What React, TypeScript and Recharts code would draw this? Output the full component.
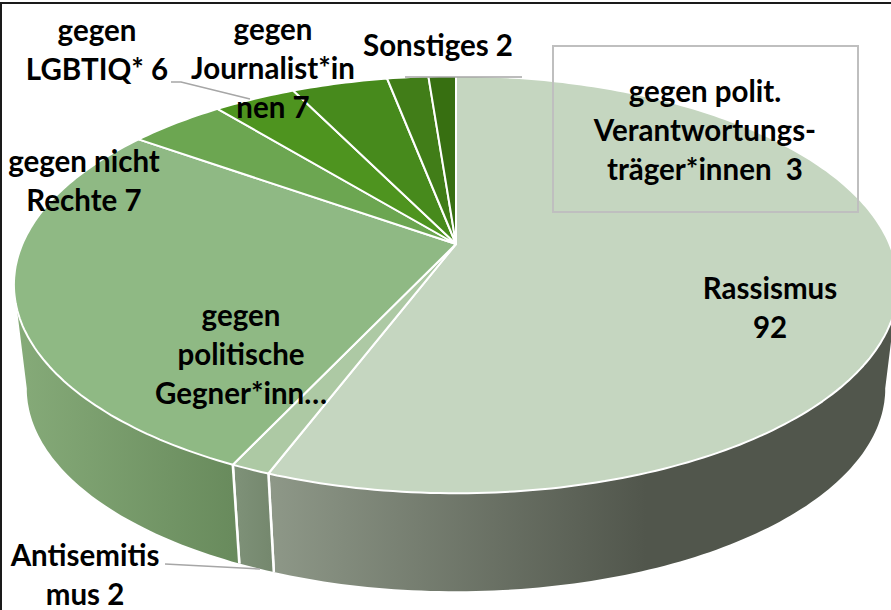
import { PieChart, Pie } from "recharts";

const categories = [
  "Rassismus",
  "Antisemitismus",
  "gegen politische Gegner*innen",
  "gegen nicht Rechte",
  "gegen LGBTIQ*",
  "gegen Journalist*innen",
  "gegen polit. Verantwortungsträger*innen",
  "Sonstiges",
];
const values = [92, 2, 46, 7, 6, 7, 3, 2];
const faceColors = ["#c5d6c0", "#adc9a4", "#8fb984", "#6ca651", "#4e941f", "#478a1c", "#417d18", "#376f11"];
const wallFrom = ["#8e9888", "#7f9279", "#86ab79", "#5f8f46", "#44801b", "#3e7818", "#386c14", "#30600f"];
const wallTo = ["#51564c", "#74876d", "#688a5c", "#4e7a3a", "#3a6e17", "#356714", "#305d11", "#29530d"];
const labelLines = [
  ["Rassismus", "92"],
  ["Antisemitis", "mus 2"],
  ["gegen", "politische", "Gegner*inn…"],
  ["gegen nicht", "Rechte 7"],
  ["gegen", "LGBTIQ* 6"],
  ["gegen", "Journalist*in", "nen 7"],
  ["gegen polit.", "Verantwortungs-", "träger*innen  3"],
  ["Sonstiges 2"],
];

const data = categories.map((name, i) => ({ name, value: values[i] }));

// where each label sits: centre x, first line's baseline
const labelSpots = [
  [770, 299],
  [85, 566],
  [241, 326],
  [84, 172],
  [97, 41],
  [273, 40],
  [705, 102],
  [438, 56],
];
const leaders = [
  null,
  "M165 564 L260 569",
  null,
  null,
  "M171 82 L181 82 L250 99",
  null,
  null,
  "M405 77 L522 77",
];

const LINE = 39;
const FONT = "Lato, Carlito, sans-serif";

// perspective of the disc seen from above
const TILT = 0.1946;
const FLAT = 0.463;
const project = (p: any, deg: number, scale = 1, flat = FLAT, dy = 0) => {
  const a = (deg * Math.PI) / 180;
  const w = 1 + TILT * Math.sin(a);
  return [
    p.cx + (p.outerRadius * scale * Math.cos(a)) / w,
    p.cy + dy - (p.outerRadius * flat * Math.sin(a)) / w,
  ];
};
const sweep = (from: number, to: number) => {
  const n = Math.max(2, Math.ceil(Math.abs(to - from)));
  return Array.from({ length: n + 1 }, (_, i) => from + ((to - from) * i) / n);
};
const toPath = (pts: number[][]) => pts.map((q, i) => `${i ? "L" : "M"}${q[0].toFixed(1)} ${q[1].toFixed(1)}`).join(" ");

const topRim = (p: any, deg: number) => project(p, deg);
const bottomRim = (p: any, deg: number) => project(p, deg, 0.971, 0.45, 105);

function Face(props: any) {
  const { cx, cy, startAngle, endAngle, index } = props;
  const rim = sweep(startAngle, endAngle).map((d) => topRim(props, d));
  return (
    <path
      d={`${toPath([[cx, cy], ...rim])} Z`}
      fill={faceColors[index]}
      stroke="#ffffff"
      strokeWidth={2}
      strokeLinejoin="round"
    />
  );
}

// only the part of the rim that faces the viewer gets a wall
const FRONT_FROM = -11.2;
const FRONT_TO = -168.8;

function Wall(props: any) {
  const { startAngle, endAngle, index } = props;
  const from = Math.min(startAngle, FRONT_FROM);
  const to = Math.max(endAngle, FRONT_TO);
  if (from <= to) return null;
  const angles = sweep(from, to);
  const top = angles.map((d) => topRim(props, d));
  const bottom = angles.map((d) => bottomRim(props, d)).reverse();
  const id = `wall-${index}`;
  return (
    <g>
      <defs>
        <linearGradient id={id} x1="0" y1="0" x2="1" y2="0">
          <stop offset="0" stopColor={wallFrom[index]} />
          <stop offset={index === 0 ? "0.6" : "1"} stopColor={wallTo[index]} />
        </linearGradient>
      </defs>
      <path d={`${toPath([...top, ...bottom])} Z`} fill={`url(#${id})`} />
      {[startAngle, endAngle]
        .filter((d) => d < FRONT_FROM && d > FRONT_TO)
        .map((d) => (
          <path key={d} d={toPath([topRim(props, d), bottomRim(props, d)])} stroke="#ffffff" strokeWidth={2.5} fill="none" />
        ))}
    </g>
  );
}

function SliceLabel({ index }: any) {
  const [x, y] = labelSpots[index];
  return (
    <g>
      {leaders[index] && <path d={leaders[index] as string} stroke="#a6a6a6" strokeWidth={1.5} fill="none" />}
      {labelLines[index].map((line, i) => (
        <text
          key={i}
          x={x}
          y={y + i * LINE}
          textAnchor="middle"
          fontFamily={FONT}
          fontWeight={700}
          fontSize={29.5}
          fill="#000000"
          style={{ whiteSpace: "pre" }}
        >
          {line}
        </text>
      ))}
    </g>
  );
}

export default function App() {
  const pieProps = {
    data,
    dataKey: "value",
    nameKey: "name",
    cx: 456,
    cy: 244,
    innerRadius: 0,
    outerRadius: 433.6,
    startAngle: 90,
    endAngle: -270,
    isAnimationActive: false,
  };
  return (
    <div style={{ position: "absolute", left: 0, top: 0, width: 891, height: 610, background: "#ffffff", overflow: "hidden" }}>
      <PieChart width={891} height={610} margin={{ top: 0, right: 0, bottom: 0, left: 0 }}>
        <Pie {...pieProps} shape={Wall} label={false} labelLine={false} />
        <Pie {...pieProps} shape={Face} label={SliceLabel} labelLine={false} />
      </PieChart>
      <div style={{ position: "absolute", left: 552, top: 45, width: 303, height: 164, border: "2px solid #bfbfbf" }} />
      <div style={{ position: "absolute", left: 0, top: 2, width: 891, height: 2, background: "#1a1a1a" }} />
      <div style={{ position: "absolute", left: 0, top: 2, width: 1.5, height: 608, background: "#1a1a1a" }} />
    </div>
  );
}
